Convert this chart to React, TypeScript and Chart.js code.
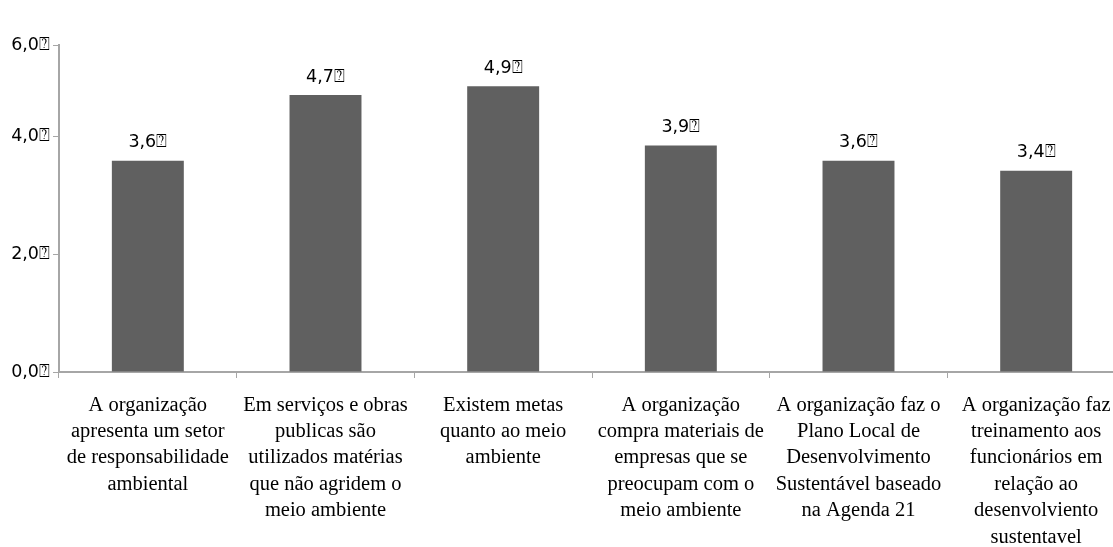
import React, { useEffect, useRef } from "react";
import { Chart, registerables } from "chart.js";

Chart.register(...registerables);

const categories: string[][] = [
  ["A organização", "apresenta um setor", "de responsabilidade", "ambiental"],
  ["Em serviços e obras", "publicas são", "utilizados matérias", "que não agridem o", "meio ambiente"],
  ["Existem metas", "quanto ao meio", "ambiente"],
  ["A organização", "compra materiais de", "empresas que se", "preocupam com o", "meio ambiente"],
  ["A organização faz o", "Plano Local de", "Desenvolvimento", "Sustentável baseado", "na Agenda 21"],
  ["A organização faz", "treinamento aos", "funcionários em", "relação ao", "desenvolviento", "sustentavel"],
];

const values: number[] = [3.59, 4.71, 4.86, 3.85, 3.59, 3.42];
const valueLabels: string[] = ["3,6⍰", "4,7⍰", "4,9⍰", "3,9⍰", "3,6⍰", "3,4⍰"];

const yTickValues: number[] = [0, 2, 4, 5.56];
const yTickLabels: string[] = ["0,0⍰", "2,0⍰", "4,0⍰", "6,0⍰"];

const BAR_COLOR = "#606060";
const AXIS_COLOR = "#a6a6a6";
const SANS = "'DejaVu Sans', 'Open Sans', sans-serif";
const SERIF = "'Liberation Serif', 'Times New Roman', serif";

const valueLabelPlugin = {
  id: "valueLabels",
  afterDatasetsDraw(chart: any) {
    const ctx = chart.ctx;
    const meta = chart.getDatasetMeta(0);
    ctx.save();
    ctx.fillStyle = "#000";
    ctx.font = `17.5px ${SANS}`;
    ctx.textAlign = "center";
    ctx.textBaseline = "middle";
    meta.data.forEach((bar: any, i: number) => {
      ctx.fillText(valueLabels[i], bar.x, bar.y - 18);
    });
    ctx.restore();
  },
};

export default function App() {
  const ref = useRef<HTMLCanvasElement>(null);

  useEffect(() => {
    if (!ref.current) return;
    const chart = new Chart(ref.current, {
      type: "bar",
      data: {
        labels: categories,
        datasets: [
          {
            data: values,
            backgroundColor: BAR_COLOR,
            borderWidth: 0,
            categoryPercentage: 1,
            barPercentage: 0.405,
          },
        ],
      },
      options: {
        animation: false,
        responsive: false,
        layout: { padding: { top: 45, right: 5, left: 0, bottom: 0 } },
        plugins: { legend: { display: false }, tooltip: { enabled: false } },
        scales: {
          x: {
            offset: true,
            grid: {
              offset: true,
              drawOnChartArea: false,
              drawTicks: true,
              tickLength: 6,
              color: AXIS_COLOR,
              lineWidth: 1,
            },
            border: { color: AXIS_COLOR, width: 2 },
            ticks: {
              maxRotation: 0,
              autoSkip: false,
              color: "#000",
              padding: 14,
              font: { family: SERIF, size: 20.5, lineHeight: 26.4 / 20.5 },
            },
            afterFit(scale: any) {
              scale.height = 547 - 372;
            },
          },
          y: {
            min: 0,
            max: 5.56,
            afterBuildTicks(scale: any) {
              scale.ticks = yTickValues.map((v) => ({ value: v }));
            },
            afterFit(scale: any) {
              scale.width = 59;
            },
            grid: {
              drawOnChartArea: false,
              drawTicks: true,
              tickLength: 6,
              color: AXIS_COLOR,
            },
            border: { color: AXIS_COLOR, width: 2 },
            ticks: {
              color: "#000",
              padding: 3,
              font: { family: SANS, size: 17.5 },
              callback: (_v: any, i: number) => yTickLabels[i],
            },
          },
        },
      },
      plugins: [valueLabelPlugin],
    });
    return () => chart.destroy();
  }, []);

  return (
    <div
      style={{
        position: "fixed",
        left: 0,
        top: 0,
        width: 1113,
        height: 547,
        overflow: "hidden",
        background: "#fff",
      }}
    >
      <canvas ref={ref} width={1130} height={547} style={{ display: "block" }} />
    </div>
  );
}
